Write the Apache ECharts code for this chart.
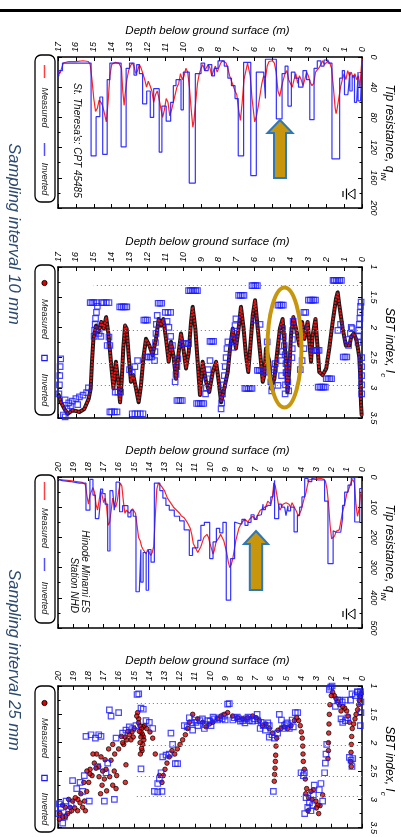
<!DOCTYPE html>
<html><head><meta charset="utf-8">
<script src="https://cdn.jsdelivr.net/npm/echarts@6/dist/echarts.min.js"></script>
<style>html,body{margin:0;padding:0;background:#fff}#c{width:401px;height:837px}</style>
</head><body><div id="c"></div>
<script>
// ---------- DATA (depth m, value) ----------
const p1Measured = [[0,2],[0.05,3],[0.12,40],[0.2,25],[0.3,30],[0.4,22],[0.5,28],[0.6,20],[0.7,25],[0.8,18],[0.9,30],[1.0,22],[1.1,30],[1.2,40],[1.3,55],[1.4,70],[1.45,75],[1.5,68],[1.6,40],[1.7,15],[1.8,8],[1.9,5],[2.0,6],[2.1,10],[2.2,5],[2.3,10],[2.4,14],[2.5,12],[2.6,20],[2.7,35],[2.8,38],[2.9,33],[3.0,25],[3.1,20],[3.2,30],[3.3,38],[3.4,30],[3.5,25],[3.6,35],[3.7,22],[3.8,30],[3.9,40],[4.0,42],[4.1,30],[4.2,18],[4.3,22],[4.4,30],[4.5,40],[4.6,52],[4.7,45],[4.8,20],[4.9,8],[5.0,5],[5.1,3],[5.2,6],[5.3,12],[5.4,28],[5.5,25],[5.6,35],[5.7,50],[5.8,65],[5.9,78],[6.0,86],[6.06,84],[6.15,55],[6.25,25],[6.4,8],[6.5,10],[6.6,30],[6.7,60],[6.8,84],[6.9,70],[7.0,50],[7.1,45],[7.2,38],[7.3,32],[7.4,25],[7.5,15],[7.6,8],[7.7,6],[7.8,5],[7.9,8],[8.0,14],[8.1,20],[8.2,12],[8.3,18],[8.4,25],[8.5,15],[8.6,10],[8.7,12],[8.8,18],[8.9,10],[9.0,15],[9.1,22],[9.2,35],[9.3,60],[9.4,85],[9.46,93],[9.55,70],[9.65,40],[9.75,20],[9.85,15],[9.95,25],[10.05,30],[10.15,22],[10.25,35],[10.35,40],[10.45,50],[10.55,60],[10.65,70],[10.75,78],[10.85,60],[10.95,55],[11.05,70],[11.15,80],[11.25,68],[11.35,55],[11.45,45],[11.55,50],[11.65,60],[11.75,45],[11.85,38],[11.95,32],[12.05,40],[12.15,30],[12.25,22],[12.35,15],[12.45,10],[12.55,18],[12.65,22],[12.75,12],[12.85,8],[12.95,12],[13.05,18],[13.15,30],[13.25,50],[13.3,64],[13.38,45],[13.45,15],[13.6,8],[13.8,7],[14.0,10],[14.1,25],[14.2,60],[14.3,86],[14.4,75],[14.5,65],[14.6,60],[14.7,57],[14.8,68],[14.9,72],[15.0,55],[15.1,30],[15.2,10],[15.3,6],[15.6,5],[16.0,6],[16.4,6],[16.7,8],[16.8,15],[16.9,22],[17,20]];
const p1Inverted = [[0,5],[0.08,58],[0.22,20],[0.3,60],[0.42,25],[0.55,45],[0.68,20],[0.79,50],[0.98,18],[1.1,28],[1.25,135],[1.68,8],[1.9,4],[2.12,12],[2.3,5],[2.5,15],[2.68,83],[2.92,30],[3.1,18],[3.3,40],[3.55,28],[3.75,20],[3.95,65],[4.14,12],[4.3,22],[4.47,82],[4.79,3],[5.4,55],[5.5,20],[5.91,157],[6.22,7],[6.62,131],[6.92,55],[7.1,38],[7.3,28],[7.5,12],[7.7,5],[8.05,15],[8.25,25],[8.4,10],[8.6,18],[8.8,8],[9.0,22],[9.32,167],[9.66,20],[9.99,70],[10.12,30],[10.4,38],[10.55,60],[10.7,85],[10.95,65],[11.19,126],[11.34,42],[11.65,80],[11.84,45],[12.04,62],[12.27,22],[12.45,10],[12.6,24],[12.75,8],[13.0,15],[13.19,119],[13.47,8],[14.1,30],[14.25,129],[14.5,53],[14.66,79],[14.87,131],[15.15,8],[16.75,18],[16.95,25],[17,25]];

const p2Measured = [[0.02,3.45],[0.05,3.3],[0.08,3.05],[0.1,2.8],[0.15,2.5],[0.2,2.4],[0.3,2.22],[0.45,2.1],[0.6,2.15],[0.7,2.3],[0.9,2.3],[1.08,2.02],[1.27,1.63],[1.36,1.42],[1.45,1.52],[1.64,1.91],[1.83,2.35],[2.0,2.68],[2.2,2.79],[2.39,2.74],[2.48,2.35],[2.6,1.86],[2.76,2.13],[2.85,2.57],[3.04,1.91],[3.22,2.19],[3.35,1.91],[3.5,2.3],[3.69,2.02],[3.84,1.83],[3.97,2.13],[4.06,2.68],[4.16,3.07],[4.25,2.57],[4.44,1.86],[4.59,2.02],[4.72,2.35],[4.9,2.85],[5.09,3.01],[5.18,2.57],[5.37,2.35],[5.46,2.79],[5.55,2.9],[5.65,2.57],[5.83,2.02],[5.98,1.55],[6.11,1.8],[6.24,2.3],[6.36,2.74],[6.49,2.46],[6.62,2.02],[6.77,1.66],[6.9,2.02],[7.05,2.35],[7.23,2.02],[7.38,2.35],[7.51,2.74],[7.7,3.01],[7.88,3.24],[8.01,2.9],[8.16,2.57],[8.35,2.74],[8.54,3.07],[8.72,2.9],[8.91,2.57],[9.06,3.12],[9.19,2.57],[9.32,2.02],[9.47,1.66],[9.56,1.91],[9.69,2.41],[9.84,2.68],[9.99,2.35],[10.12,2.1],[10.25,2.41],[10.4,2.85],[10.55,2.46],[10.68,2.24],[10.81,2.57],[10.96,2.19],[11.11,1.86],[11.24,1.97],[11.37,1.86],[11.52,2.19],[11.71,2.46],[11.89,2.3],[12.08,2.19],[12.23,2.52],[12.36,2.96],[12.49,3.24],[12.64,3.01],[12.79,2.79],[12.92,2.9],[13.05,2.46],[13.16,2.02],[13.25,1.97],[13.35,2.35],[13.44,2.9],[13.53,3.24],[13.63,2.9],[13.76,2.57],[13.9,3.01],[14.04,2.57],[14.17,2.13],[14.31,1.83],[14.44,2.02],[14.58,1.91],[14.73,2.08],[14.87,1.97],[15.02,2.19],[15.1,2.57],[15.17,3.01],[15.28,3.18],[15.53,3.35],[15.8,3.4],[16.18,3.37],[16.46,3.43],[16.64,3.35],[16.83,3.24],[16.96,3.12]];
const p2Inverted = [[0.02,2.5],[0.02,2.65],[0.02,2.8],[0.02,2.95],[0.02,3.1],[0.05,1.58],[0.08,1.65],[0.1,1.75],[0.12,1.85],[0.15,1.95],[0.18,2.05],[0.2,2.15],[0.22,2.25],[0.55,2.02],[0.6,2.0],[0.65,2.1],[0.75,2.3],[0.85,2.2],[0.85,2.49],[0.95,2.49],[1.05,2.49],[1.15,1.22],[1.25,1.22],[1.35,1.22],[1.45,1.22],[1.55,1.22],[1.62,1.22],[1.2,1.95],[1.35,2.05],[1.7,2.85],[1.8,2.85],[1.9,2.85],[2.0,2.85],[2.05,2.99],[2.15,2.99],[2.25,2.99],[2.35,2.99],[2.45,2.99],[2.4,2.38],[2.5,2.38],[2.6,2.38],[2.7,2.38],[2.6,1.55],[2.7,1.55],[2.8,1.55],[2.9,1.55],[3.0,1.55],[3.15,1.75],[3.25,1.75],[3.3,2.02],[3.25,2.35],[3.35,2.55],[3.45,2.7],[3.85,1.9],[3.87,2.05],[3.89,2.2],[3.9,2.35],[3.92,2.5],[4.1,3.05],[4.15,2.9],[4.2,2.75],[4.25,2.6],[4.3,2.45],[4.35,2.3],[4.4,2.15],[4.45,2.02],[4.25,2.75],[4.28,2.95],[4.3,3.1],[4.45,2.4],[4.5,2.55],[4.5,2.8],[4.4,1.63],[4.5,1.63],[4.6,1.63],[4.7,1.63],[4.7,2.96],[4.85,2.6],[4.9,2.7],[5.0,2.75],[5.05,3.05],[5.1,2.9],[5.3,2.24],[5.45,2.74],[5.65,2.71],[5.75,2.71],[5.85,2.71],[5.7,1.95],[6.0,1.88],[5.85,1.31],[5.95,1.31],[6.05,1.31],[6.15,1.31],[6.15,3.01],[6.25,3.01],[6.35,3.01],[6.45,3.01],[6.55,3.01],[6.6,1.47],[6.7,1.47],[6.8,1.47],[6.9,1.47],[7.05,1.86],[7.1,1.97],[7.15,2.1],[7.2,2.2],[7.23,2.33],[7.5,2.24],[7.55,2.35],[7.6,2.5],[7.65,2.65],[7.7,2.8],[7.75,2.95],[7.8,3.1],[7.85,3.25],[7.88,3.35],[8.3,2.23],[8.4,2.23],[8.5,2.23],[8.5,2.55],[8.6,2.7],[8.65,2.85],[8.7,3.0],[8.75,3.1],[8.85,3.26],[8.95,3.26],[9.05,3.26],[9.15,3.26],[9.25,3.26],[9.2,1.39],[9.3,1.39],[9.4,1.39],[9.5,1.39],[9.6,1.39],[9.7,1.39],[9.7,2.27],[9.85,2.27],[10.0,2.27],[10.05,3.21],[10.15,3.21],[10.25,3.21],[10.35,3.21],[10.3,2.52],[10.35,2.65],[10.4,2.78],[10.45,2.9],[10.6,2.3],[10.7,2.15],[10.8,2.0],[10.9,1.9],[10.7,1.75],[10.85,1.75],[11.0,1.75],[11.2,1.6],[11.3,1.6],[11.4,1.6],[11.45,1.8],[11.5,1.95],[11.52,2.1],[11.55,2.25],[11.58,2.4],[11.6,2.55],[11.75,2.49],[11.85,2.49],[11.95,2.49],[12.05,2.49],[12.0,1.88],[12.1,1.88],[12.2,1.88],[12.25,3.43],[12.4,3.43],[12.55,3.43],[12.7,3.43],[12.85,3.43],[12.55,2.55],[12.7,2.65],[12.85,2.75],[13.0,2.7],[13.15,1.66],[13.25,1.66],[13.35,1.66],[13.45,1.66],[13.55,1.66],[13.5,3.07],[13.65,3.07],[13.8,3.07],[13.7,3.4],[13.85,3.4],[14.0,3.4],[14.1,3.4],[14.1,2.3],[14.25,2.3],[14.15,2.16],[14.15,1.59],[14.3,1.59],[14.45,1.59],[14.55,1.59],[14.6,2.15],[14.7,2.1],[14.8,1.65],[14.85,1.75],[14.9,1.85],[14.92,1.95],[14.95,2.05],[14.98,2.15],[14.85,1.59],[15.0,1.59],[15.1,1.59],[15.2,1.59],[15.3,3.0],[15.4,3.08],[15.6,3.12],[15.8,3.15],[15.9,3.28],[16.0,3.18],[16.2,3.22],[16.3,3.3],[16.4,3.25],[16.5,3.35],[16.6,3.2],[16.6,3.48],[16.7,3.45],[16.85,2.52],[16.88,2.65],[16.9,2.8],[16.92,2.95],[16.95,3.1]];

const p3Measured = [[0,40],[0.1,60],[0.2,110],[0.3,130],[0.4,90],[0.5,20],[0.6,8],[0.7,15],[0.8,30],[0.9,45],[1.0,55],[1.1,80],[1.2,100],[1.3,120],[1.4,150],[1.5,175],[1.6,170],[1.7,180],[1.8,195],[1.9,200],[2.0,205],[2.1,160],[2.2,90],[2.3,40],[2.4,15],[2.5,8],[2.7,5],[3.0,6],[3.3,8],[3.5,10],[3.6,30],[3.7,55],[3.8,70],[3.9,90],[4.0,110],[4.1,120],[4.2,130],[4.3,115],[4.4,110],[4.5,95],[4.6,85],[4.7,100],[4.8,90],[4.9,95],[5.0,85],[5.1,80],[5.2,90],[5.3,100],[5.4,110],[5.5,90],[5.6,60],[5.7,30],[5.8,20],[5.9,70],[6.0,90],[6.1,85],[6.2,80],[6.3,95],[6.4,100],[6.5,105],[6.6,100],[6.7,110],[6.8,120],[6.9,125],[7.0,140],[7.1,145],[7.2,130],[7.3,125],[7.4,140],[7.5,150],[7.6,155],[7.7,140],[7.8,145],[7.9,150],[8.0,160],[8.1,170],[8.2,190],[8.3,210],[8.4,240],[8.5,270],[8.6,290],[8.7,300],[8.8,280],[8.9,250],[9.0,230],[9.1,210],[9.2,200],[9.3,190],[9.4,200],[9.5,205],[9.6,215],[9.7,240],[9.8,255],[9.9,250],[10.0,220],[10.1,200],[10.2,190],[10.3,185],[10.4,200],[10.5,215],[10.6,230],[10.7,240],[10.8,250],[10.9,245],[11.0,230],[11.1,220],[11.2,190],[11.3,170],[11.4,160],[11.5,150],[11.6,145],[11.7,135],[11.8,135],[11.9,128],[12.0,120],[12.2,110],[12.4,100],[12.6,85],[12.8,70],[13.0,45],[13.2,30],[13.4,20],[13.5,40],[13.6,130],[13.7,230],[13.8,250],[13.9,260],[14.0,250],[14.1,240],[14.2,255],[14.3,250],[14.4,240],[14.5,230],[14.6,210],[14.7,200],[14.8,160],[14.9,120],[15.0,115],[15.1,105],[15.2,110],[15.3,120],[15.4,115],[15.5,110],[15.6,120],[15.7,80],[15.8,30],[15.9,20],[16.0,45],[16.1,80],[16.2,100],[16.3,90],[16.4,70],[16.5,110],[16.6,150],[16.7,160],[16.8,100],[16.9,70],[17.0,85],[17.1,60],[17.2,45],[17.3,80],[17.4,110],[17.5,90],[17.6,50],[17.7,35],[17.8,40],[17.9,60],[18.0,90],[18.1,60],[18.2,25],[18.4,18],[18.8,15],[19.2,12],[19.6,10],[20,8]];
const p3Inverted = [[0,38],[0.15,149],[0.48,3],[0.7,27],[0.92,50],[1.14,94],[1.28,138],[1.4,183],[1.7,178],[1.9,287],[2.24,80],[2.46,10],[2.9,4],[3.3,15],[3.55,5],[3.77,66],[3.95,100],[4.1,127],[4.25,182],[4.47,100],[4.7,112],[4.87,95],[5.0,128],[5.09,100],[5.3,90],[5.48,138],[5.75,11],[5.86,66],[6.0,94],[6.18,100],[6.35,108],[6.51,90],[6.62,125],[6.73,128],[6.9,140],[7.1,125],[7.3,150],[7.5,160],[7.7,140],[7.9,155],[8.05,149],[8.38,270],[8.64,408],[8.93,150],[9.15,185],[9.36,170],[9.58,215],[9.8,270],[10.02,150],[10.37,160],[10.6,210],[10.8,235],[11.15,260],[11.36,175],[11.7,145],[12.0,130],[12.35,110],[12.68,94],[12.9,70],[13.1,45],[13.3,20],[13.66,282],[13.88,240],[14.04,375],[14.2,250],[14.4,348],[14.55,240],[14.65,380],[14.87,130],[15.05,110],[15.2,132],[15.4,95],[15.75,115],[15.95,17],[16.18,60],[16.3,110],[16.4,45],[16.58,245],[16.73,90],[16.9,55],[17.06,40],[17.2,75],[17.32,138],[17.54,60],[17.7,8],[17.9,110],[18.16,20],[18.6,15],[19.2,12],[19.7,8],[20,8]];

const p4Measured = [[0.07,1.14],[0.13,1.19],[0.18,1.25],[0.22,1.33],[0.29,1.42],[0.39,1.5],[0.46,1.58],[0.55,1.67],[0.64,1.75],[0.68,1.89],[0.7,2.03],[0.72,2.17],[0.75,2.33],[0.7,2.42],[0.83,1.64],[0.92,1.53],[1.01,1.44],[1.14,1.39],[1.27,1.36],[1.38,1.44],[1.49,1.33],[1.6,1.28],[1.71,1.22],[1.82,1.17],[1.93,1.11],[2.02,1.17],[2.11,1.33],[2.15,1.5],[2.17,1.67],[2.19,1.83],[2.21,2.0],[2.21,2.14],[2.24,2.28],[2.59,2.92],[2.76,3.11],[2.85,3.25],[2.9,3.1],[3.0,3.15],[3.03,3.03],[3.2,2.83],[3.3,3.0],[3.36,2.86],[3.51,2.97],[3.55,3.2],[3.64,2.81],[3.7,2.9],[3.73,2.64],[3.79,2.47],[3.86,2.33],[3.88,2.2],[3.9,2.06],[3.93,1.92],[3.99,1.81],[4.06,1.7],[4.17,1.61],[4.3,1.56],[4.45,1.61],[4.67,1.7],[4.89,1.75],[5.11,1.72],[5.33,1.75],[5.53,1.78],[5.61,1.92],[5.66,2.06],[5.68,2.22],[5.7,2.33],[5.72,2.45],[5.75,2.56],[5.77,2.68],[5.88,1.83],[6.1,1.75],[6.32,1.67],[6.54,1.7],[6.75,1.61],[6.97,1.56],[7.19,1.53],[7.52,1.56],[7.85,1.58],[8.18,1.56],[8.51,1.53],[8.84,1.47],[9.06,1.5],[9.28,1.53],[9.5,1.58],[9.82,1.64],[10.04,1.67],[10.26,1.72],[10.48,1.64],[10.81,1.58],[11.14,1.5],[11.36,1.64],[11.47,1.75],[11.62,1.86],[11.8,1.95],[11.97,2.03],[12.15,2.11],[12.32,2.2],[12.5,2.14],[12.68,2.25],[12.83,2.36],[12.96,2.47],[13.07,2.58],[13.16,2.7],[13.33,2.58],[13.6,2.2],[13.77,1.92],[13.95,1.81],[14.17,1.75],[14.32,1.7],[14.35,1.95],[14.39,1.89],[14.4,1.72],[14.43,2.03],[14.45,1.85],[14.47,2.14],[14.5,1.75],[14.5,2.1],[14.54,1.81],[14.55,1.9],[14.58,2.2],[14.6,2.0],[14.61,1.7],[14.65,1.8],[14.69,1.58],[14.7,1.65],[14.76,1.47],[14.82,1.53],[14.98,1.75],[15.05,1.9],[15.13,1.81],[15.2,1.95],[15.31,1.86],[15.4,1.8],[15.48,1.95],[15.53,2.39],[15.57,2.7],[15.6,1.9],[15.68,2.03],[15.75,2.0],[15.83,1.89],[16.01,2.11],[16.14,2.58],[16.18,2.81],[16.27,2.2],[16.3,2.5],[16.4,2.03],[16.4,2.75],[16.51,2.31],[16.6,2.6],[16.67,2.11],[16.8,2.85],[16.84,2.47],[16.9,2.3],[16.95,2.64],[17.06,2.5],[17.1,2.75],[17.17,2.25],[17.2,2.9],[17.3,2.6],[17.32,2.42],[17.46,2.2],[17.5,2.45],[17.61,2.36],[17.7,2.2],[17.76,2.58],[17.89,2.47],[17.9,2.55],[17.98,2.7],[18.1,2.5],[18.11,2.86],[18.2,3.2],[18.25,3.03],[18.3,2.7],[18.38,3.14],[18.5,2.9],[18.55,3.06],[18.7,3.0],[18.71,3.2],[18.86,2.97],[18.9,3.15],[19.04,3.03],[19.1,3.2],[19.21,3.14],[19.3,3.0],[19.36,3.25],[19.5,3.3],[19.52,3.14],[19.69,3.31],[19.7,3.1],[19.87,3.25],[19.9,3.35]];
const p4Inverted = [[0.07,1.28],[0.07,1.47],[0.1,1.1],[0.11,1.7],[0.13,1.14],[0.29,1.11],[0.3,1.1],[0.44,1.17],[0.66,1.14],[0.75,1.25],[0.61,2.28],[0.72,2.31],[0.83,2.26],[0.66,2.42],[0.94,1.56],[1.1,1.61],[1.1,1.25],[1.27,1.64],[1.3,1.28],[1.38,1.58],[1.49,1.25],[1.6,1.25],[1.75,1.36],[1.97,1.0],[2.06,1.02],[2.15,1.06],[2.32,2.03],[2.37,2.2],[2.41,2.36],[2.46,2.53],[2.59,3.03],[2.7,2.72],[2.81,2.83],[3.14,2.75],[3.2,2.92],[3.25,3.11],[3.36,3.2],[3.46,3.06],[3.57,3.14],[3.68,2.97],[3.77,3.25],[3.79,2.53],[3.86,2.58],[4.01,2.53],[4.23,1.47],[4.39,1.47],[4.52,1.72],[4.6,1.6],[4.78,1.75],[4.9,1.65],[5.0,1.67],[5.1,1.7],[5.22,1.75],[5.3,1.6],[5.44,1.5],[5.55,1.83],[5.77,1.92],[5.83,2.86],[5.92,1.86],[6.1,1.7],[6.1,1.9],[6.2,1.65],[6.36,1.78],[6.5,1.7],[6.64,1.64],[6.7,1.75],[6.86,1.61],[6.9,1.5],[7.08,1.58],[7.2,1.62],[7.41,1.61],[7.5,1.55],[7.63,1.58],[7.7,1.65],[7.85,1.61],[8.0,1.62],[8.11,1.58],[8.2,1.55],[8.4,1.56],[8.5,1.6],[8.73,1.31],[8.84,1.32],[9.0,1.6],[9.06,1.53],[9.2,1.58],[9.39,1.56],[9.5,1.6],[9.71,1.58],[9.8,1.55],[9.93,1.7],[10.0,1.62],[10.15,1.61],[10.3,1.68],[10.37,1.75],[10.5,1.58],[10.66,1.61],[10.8,1.7],[10.92,1.64],[11.0,1.6],[11.14,1.78],[11.2,1.65],[11.36,1.56],[11.5,1.72],[11.69,1.7],[12.13,2.37],[12.28,2.37],[12.46,2.03],[12.57,1.83],[12.68,2.2],[12.89,2.22],[13.11,2.25],[13.16,2.86],[13.22,2.53],[13.33,2.64],[13.44,2.72],[13.44,2.87],[13.66,2.86],[13.77,1.75],[13.99,1.64],[14.21,1.61],[14.39,1.41],[14.54,1.39],[14.54,2.46],[14.69,1.14],[14.8,1.15],[14.87,1.7],[15.09,1.75],[15.31,1.72],[15.53,1.78],[15.75,1.83],[16.01,1.47],[16.18,1.92],[16.29,3.0],[16.51,1.53],[16.62,1.42],[16.73,2.36],[16.84,2.53],[16.95,3.03],[17.17,1.89],[17.32,1.86],[17.39,2.42],[17.54,1.92],[17.83,1.86],[17.94,3.03],[18.16,1.89],[18.27,2.58],[18.38,2.86],[18.55,2.7],[18.77,2.81],[19.04,2.67],[19.14,3.08],[19.3,3.2],[19.47,3.03],[19.58,3.31],[19.69,3.42],[19.8,3.14],[19.91,3.08],[19.96,3.25]];

const sbtBoundaries = [1.31, 2.05, 2.60, 2.95];
const boundaryEndDepth = 15;

// ---------- STYLE / LAYOUT ----------
const FONT = 'Liberation Sans, Arial, Helvetica, sans-serif';
const BLACK = '#000';
const grids = [
  {left:58, top:57, width:304, height:151},
  {left:58, top:267, width:304, height:151},
  {left:58, top:477, width:304, height:151},
  {left:58, top:686, width:304, height:150}
];
const axisCfg = [
  {dmax:17, ymin:0, ymax:200, yint:40},
  {dmax:17, ymin:1, ymax:3.5, yint:0.5},
  {dmax:20, ymin:0, ymax:500, yint:100},
  {dmax:20, ymin:1, ymax:3.5, yint:0.5}
];
const lineAx = {show:true, onZero:false, lineStyle:{color:BLACK, width:1.5}};
const lab = (show, margin) => ({show, rotate:-90, fontSize:9, fontStyle:'italic', fontFamily:FONT, color:BLACK, margin});
const xAxis = [], yAxis = [];
axisCfg.forEach((c, i) => {
  ['top','bottom'].forEach((pos, k) => xAxis.push({type:'value', gridIndex:i, min:0, max:c.dmax, interval:1, inverse:true, position:pos,
    axisLine:lineAx, axisTick:{show:true, inside:true, length:4, lineStyle:{color:BLACK}}, axisLabel:lab(k===0, 5), splitLine:{show:false}}));
  ['right','left'].forEach((pos, k) => yAxis.push({type:'value', gridIndex:i, min:c.ymin, max:c.ymax, interval:c.yint, inverse:true, position:pos,
    axisLine:lineAx, axisTick:{show:true, inside:true, length:4, lineStyle:{color:BLACK}},
    minorTick:{show:true, splitNumber:2, length:2.5, lineStyle:{color:BLACK}},
    axisLabel:lab(k===0, 7), splitLine:{show:false}, minorSplitLine:{show:false}}));
});

const RED = '#ff2222', BLUE = '#1c1cff';
const sq = {color:'rgba(255,255,255,0)', borderColor:BLUE, borderWidth:1.2};
const boundaryLines = {silent:true, symbol:['none','none'], label:{show:false}, animation:false,
  lineStyle:{color:'#8a8a8a', type:[1.2,2.8], width:1},
  data: sbtBoundaries.map(b => [{coord:[0,b]},{coord:[boundaryEndDepth,b]}])};

const series = [
  {type:'line', xAxisIndex:0, yAxisIndex:0, data:p1Measured, symbol:'none', lineStyle:{color:RED, width:1.2}, z:2},
  {type:'line', xAxisIndex:0, yAxisIndex:0, data:p1Inverted, step:'end', symbol:'none', lineStyle:{color:BLUE, width:1.2, opacity:0.9}, z:3},
  {type:'line', xAxisIndex:2, yAxisIndex:2, data:p2Measured, symbol:'none', lineStyle:{color:'#1a1a1a', width:4, cap:'round', join:'round'}, z:2, markLine:boundaryLines},
  {type:'line', xAxisIndex:2, yAxisIndex:2, data:p2Measured, symbol:'none', lineStyle:{color:'#e81010', width:2.3, type:[0.01,3.2], cap:'round', join:'round'}, z:3},
  {type:'scatter', xAxisIndex:2, yAxisIndex:2, data:p2Inverted, symbol:'rect', symbolSize:5.5, itemStyle:sq, z:4},
  {type:'line', xAxisIndex:4, yAxisIndex:4, data:p3Measured, symbol:'none', lineStyle:{color:RED, width:1.2}, z:2},
  {type:'line', xAxisIndex:4, yAxisIndex:4, data:p3Inverted, step:'end', symbol:'none', lineStyle:{color:BLUE, width:1.2, opacity:0.9}, z:3},
  {type:'scatter', xAxisIndex:6, yAxisIndex:6, data:p4Measured, symbol:'circle', symbolSize:4.6, itemStyle:{color:'#e00000', borderColor:'#000', borderWidth:0.9}, z:3, markLine:boundaryLines},
  {type:'scatter', xAxisIndex:6, yAxisIndex:6, data:p4Inverted, symbol:'rect', symbolSize:5.5, itemStyle:sq, z:4}
];

// ---------- ANNOTATIONS ----------
const R90 = -Math.PI/2;
function vtext(x, y, text, size, color, align) {
  return {type:'text', x, y, rotation:R90, z:100, style:{text, fontSize:size, fontStyle:'italic', fontFamily:FONT, fill:color,
    align:align||'center', textAlign:align||'center', verticalAlign:'middle', textVerticalAlign:'middle'}};
}
function richTitle(x, y, main, sub) {
  return {type:'text', x, y, rotation:R90, z:100, style:{text:'{a|'+main+'}{b|'+sub+'}', align:'center', textAlign:'center', verticalAlign:'middle', textVerticalAlign:'middle',
    rich:{a:{fontSize:12, fontStyle:'italic', fontFamily:FONT, fill:BLACK, color:BLACK, lineHeight:16, verticalAlign:'top'},
          b:{fontSize:8, fontStyle:'italic', fontFamily:FONT, fill:BLACK, color:BLACK, lineHeight:10, verticalAlign:'bottom'}}}};
}
function htext(x, y, text) {
  return {type:'text', x, y, z:100, style:{text, fontSize:11.5, fontStyle:'italic', fontFamily:FONT, fill:BLACK, align:'center', textAlign:'center', verticalAlign:'middle', textVerticalAlign:'middle'}};
}
const LX = 44.5;
function legendBox(y, h) { return {type:'rect', z:100, shape:{x:35, y, width:20, height:h, r:6}, style:{fill:'#fff', stroke:BLACK, lineWidth:1.3}}; }
function vline(x, y1, y2, color, w) { return {type:'line', z:101, shape:{x1:x, y1, x2:x, y2}, style:{stroke:color, lineWidth:w||1.5}}; }
function dot(y) { return {type:'circle', z:101, shape:{cx:LX, cy:y, r:2.6}, style:{fill:'#e00000', stroke:BLACK, lineWidth:0.9}}; }
function square(y) { return {type:'rect', z:101, shape:{x:LX-2.7, y:y-2.7, width:5.4, height:5.4}, style:{fill:'none', stroke:BLUE, lineWidth:1.2}}; }
function waterTable(cy) {
  return [
    {type:'polygon', z:101, shape:{points:[[348,cy],[355,cy-5],[355,cy+5]]}, style:{fill:'#fff', stroke:BLACK, lineWidth:1}},
    vline(346.5, cy-5.5, cy+5.5, BLACK, 1.2),
    vline(343, cy-3, cy+3, BLACK, 1.2)
  ];
}
function arrow(tx, ty, hw, sw, hy, by) {
  return {type:'polygon', z:102, shape:{points:[[tx,ty],[tx+hw,hy],[tx+sw,hy],[tx+sw,by],[tx-sw,by],[tx-sw,hy],[tx-hw,hy]]},
    style:{fill:'#c8960c', stroke:'#2f78b8', lineWidth:2}};
}
const elements = [
  {type:'rect', z:100, shape:{x:0, y:9, width:401, height:3}, style:{fill:BLACK}},
  htext(207.5, 31, 'Depth below ground surface (m)'),
  htext(207.5, 242, 'Depth below ground surface (m)'),
  htext(207.5, 451, 'Depth below ground surface (m)'),
  htext(207.5, 661, 'Depth below ground surface (m)'),
  richTitle(387, 132.5, 'Tip resistance, q', 'tN'),
  richTitle(387, 342.5, 'SBT index, I', 'c'),
  richTitle(387, 552.5, 'Tip resistance, q', 'tN'),
  richTitle(387, 761, 'SBT index, I', 'c'),
  vtext(14, 234, 'Sampling interval 10 mm', 16.5, '#2b4a70'),
  vtext(14, 660, 'Sampling interval 25 mm', 16.5, '#2b4a70'),
  vtext(77, 83, "St. Theresa's: CPT 45485", 10, '#111', 'left'),
  vtext(84.5, 613, 'Hinode Minami ES', 10, '#111', 'right'),
  vtext(73.5, 613, 'Station NHD', 10, '#111', 'right'),
  legendBox(55, 147), vline(LX, 65, 78, '#ff4040'), vtext(LX, 107.5, 'Measured', 9, '#222'), vline(LX, 143, 156, '#5050ff'), vtext(LX, 179, 'Inverted', 9, '#222'),
  legendBox(265, 150), dot(283), vtext(LX, 319, 'Measured', 9, '#222'), square(358), vtext(LX, 390, 'Inverted', 9, '#222'),
  legendBox(475, 148), vline(LX, 482, 500, '#ff4040'), vtext(LX, 528, 'Measured', 9, '#222'), vline(LX, 558, 571, '#5050ff'), vtext(LX, 598, 'Inverted', 9, '#222'),
  legendBox(686, 146), dot(703), vtext(LX, 738, 'Measured', 9, '#222'), square(778), vtext(LX, 809, 'Inverted', 9, '#222'),
  ...waterTable(194), ...waterTable(614),
  arrow(280, 120, 12.5, 6, 133, 178),
  arrow(256, 531, 12, 6.2, 544, 590),
  {type:'ellipse', z:102, shape:{cx:284.5, cy:347.5, rx:17, ry:60}, style:{fill:'none', stroke:'#c8960c', lineWidth:4}}
];

const chart = echarts.init(document.getElementById('c'), null, {renderer:'canvas'});
chart.setOption({
  animation:false,
  backgroundColor:'#fff',
  grid:grids, xAxis, yAxis, series,
  graphic:{elements}
});
</script>
</body></html>
